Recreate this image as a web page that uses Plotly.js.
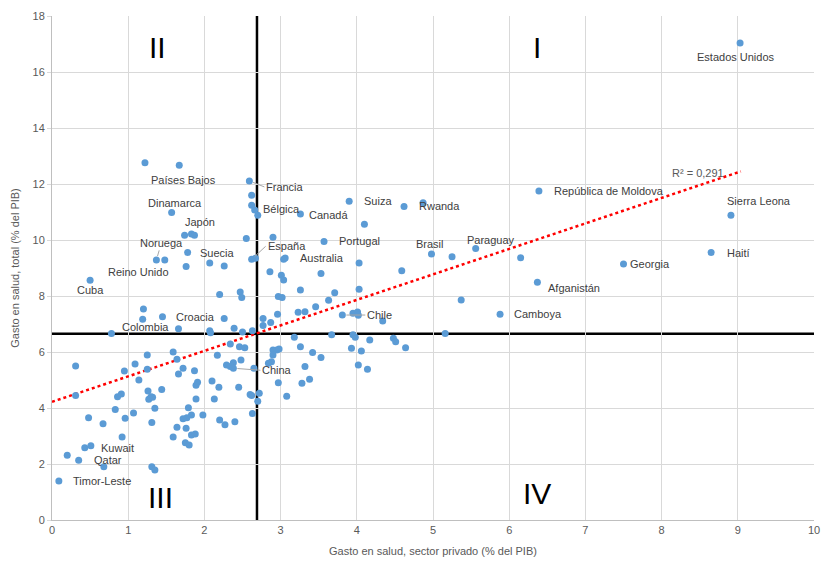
<!DOCTYPE html>
<html>
<head>
<meta charset="utf-8">
<script src="https://cdn.plot.ly/plotly-3.0.1.min.js"></script>
<style>html,body{margin:0;padding:0;background:#fff;}#chart{width:821px;height:565px;}</style>
</head>
<body>
<div id="chart"></div>
<script>
// Países con etiqueta
const paisesEtiquetados = ['Estados Unidos','Países Bajos','Francia','Bélgica','Dinamarca','Japón','Noruega','Reino Unido','España','Suecia','Cuba','Croacia','Colombia','Canadá','Suiza','Rwanda','Portugal','Australia','Brasil','Chile','China','Kuwait','Qatar','Timor-Leste','República de Moldova','Sierra Leona','Paraguay','Georgia','Haití','Afganistán','Camboya'];
const privadoEtiquetados = [9.03,1.67,2.59,2.66,1.57,1.87,1.37,1.48,2.62,2.07,0.50,1.45,1.66,3.26,3.90,4.62,3.57,3.06,4.98,3.81,2.38,0.51,0.35,0.09,6.39,8.91,5.56,7.50,8.65,6.37,5.88];
const totalEtiquetados = [17.04,12.67,12.11,11.07,10.98,10.17,9.29,9.29,9.31,9.18,8.56,7.26,6.83,10.93,11.38,11.20,9.95,9.36,9.50,7.32,5.42,2.65,2.13,1.39,11.75,10.88,9.70,9.14,9.55,8.49,7.35];

// Resto de países (sin etiqueta)
const privadoOtros = [1.22,2.62,2.62,2.70,1.74,1.83,2.55,1.78,2.67,1.76,2.26,2.20,2.47,2.49,1.20,1.19,2.26,0.78,2.07,2.08,2.39,2.50,2.63,2.77,2.77,2.87,2.86,4.87,4.10,2.90,3.04,4.03,5.25,4.59,3.01,3.04,3.53,4.03,3.26,3.71,2.97,3.02,3.63,3.46,2.96,3.23,3.32,3.95,4.01,4.02,4.34,5.16,6.15,5.37,3.18,3.67,3.95,3.98,4.17,4.48,4.51,4.64,3.26,3.42,3.53,3.93,4.06,2.90,2.95,2.98,2.90,2.88,2.84,3.32,4.02,4.14,2.97,3.38,3.28,3.08,2.72,2.70,2.46,2.53,2.34,2.38,2.48,2.65,2.45,2.60,2.62,2.63,2.40,0.31,1.25,1.09,0.95,1.25,1.14,1.59,1.64,1.72,1.66,1.87,2.17,2.29,2.34,1.91,1.89,2.10,2.19,2.13,1.89,0.31,0.86,0.91,1.26,1.30,1.27,1.32,1.44,1.35,0.83,0.48,0.67,0.96,1.07,1.31,1.79,1.83,1.77,1.72,1.98,1.64,1.76,1.59,1.83,1.88,1.75,1.80,2.20,2.27,0.92,0.43,0.20,0.68,1.31,1.35];
const totalOtros = [12.76,11.60,11.24,10.88,10.17,10.21,10.05,9.55,9.35,9.05,9.07,8.05,8.14,7.95,7.54,7.17,7.20,6.66,6.76,6.69,6.85,6.71,6.76,7.20,6.95,7.05,8.87,11.33,10.56,10.10,9.31,9.18,9.40,8.90,8.74,8.57,8.80,8.24,8.21,8.12,7.98,7.95,7.85,7.62,7.35,7.42,7.44,7.38,7.43,7.31,7.11,6.66,9.37,7.86,6.53,6.62,6.62,6.53,6.43,6.49,6.37,6.15,6.19,5.98,5.80,6.13,6.04,6.07,6.07,6.11,5.89,5.65,5.60,5.48,5.54,5.38,4.90,5.03,4.88,4.42,4.53,4.24,6.19,6.15,6.29,5.62,5.71,5.42,4.74,4.48,4.45,3.80,3.51,5.50,5.89,5.57,5.32,5.38,5.00,6.00,5.74,5.42,5.21,5.33,5.88,5.54,5.48,4.92,4.81,4.96,4.74,4.32,4.32,4.45,4.40,4.50,4.61,4.40,4.31,4.38,4.66,3.99,3.95,3.65,3.44,3.63,3.82,3.48,4.01,3.75,3.65,3.62,3.75,3.31,3.28,2.96,3.04,3.07,2.76,2.68,3.57,3.40,2.96,2.58,2.31,1.90,1.90,1.79];

// Líneas de referencia (promedios) y tendencia lineal
const promedioPrivado = 2.69;
const promedioTotal = 6.65;
const tendenciaX = [0, 9.04];
const tendenciaY = [4.22, 12.45];
const textoR2 = 'R² = 0,291';
const ejeXTicks = [0,1,2,3,4,5,6,7,8,9,10];
const ejeYTicks = [0,2,4,6,8,10,12,14,16,18];
const cuadrantes = [
  {t:'I', x:6.36, y:16.86},
  {t:'II', x:1.39, y:16.86},
  {t:'III', x:1.42, y:0.82},
  {t:'IV', x:6.36, y:0.93}
];

// Colocación de etiquetas (estilo): [anclaje, desplazamiento x px, desplazamiento y px (abajo +), línea guía]
const colocacion = {
  'Estados Unidos': ['center', -4, 14],
  'Países Bajos': ['center', 4, 15],
  'Francia': ['left', 15, 6, true],
  'Bélgica': ['left', 6, -1],
  'Dinamarca': ['center', 3, -10],
  'Japón': ['center', 6, -13],
  'Noruega': ['center', 5, -17, true],
  'Reino Unido': ['center', -26, 12],
  'España': ['left', 14, -13, true],
  'Suecia': ['center', 8, -10],
  'Cuba': ['center', 0, 10],
  'Croacia': ['left', 12, 0],
  'Colombia': ['right', -7, -2],
  'Canadá': ['left', 7, 1],
  'Suiza': ['left', 13, 0],
  'Rwanda': ['left', 13, 0],
  'Portugal': ['left', 13, 0],
  'Australia': ['left', 13, 0],
  'Brasil': ['center', -1, -10],
  'Chile': ['left', 23, 0, true],
  'China': ['left', 27, 2, true],
  'Kuwait': ['left', 8, 2],
  'Qatar': ['left', 13, 0],
  'Timor-Leste': ['left', 12, 0],
  'República de Moldova': ['left', 13, 0],
  'Sierra Leona': ['center', 28, -14],
  'Paraguay': ['center', 15, -8],
  'Georgia': ['left', 4, 0],
  'Haití': ['left', 14, 0],
  'Afganistán': ['left', 9, 6],
  'Camboya': ['left', 12, 0]
};

const FONT = 'Liberation Sans, Arial, sans-serif';
const azul = '#5b9bd5';

const traces = [
  {x: tendenciaX, y: tendenciaY, mode: 'lines', type: 'scatter',
   line: {color: '#ff0000', width: 2.5, dash: 'dot'}, hoverinfo: 'skip', showlegend: false},
  {x: privadoOtros, y: totalOtros, mode: 'markers', type: 'scatter',
   marker: {color: azul, size: 7}, showlegend: false},
  {x: privadoEtiquetados, y: totalEtiquetados, text: paisesEtiquetados, mode: 'markers', type: 'scatter',
   marker: {color: azul, size: 7}, showlegend: false}
];

const annotations = [];
paisesEtiquetados.forEach((p, i) => {
  const c = colocacion[p] || ['left', 8, 0];
  const base = {x: privadoEtiquetados[i], y: totalEtiquetados[i], xref: 'x', yref: 'y', text: p,
    font: {family: FONT, size: 11, color: '#404040'}, xanchor: c[0], yanchor: 'middle'};
  if (c[3]) {
    Object.assign(base, {showarrow: true, ax: c[1], ay: c[2], arrowhead: 0, arrowwidth: 1,
      arrowcolor: '#a6a6a6', standoff: 4, startstandoff: 0});
  } else {
    Object.assign(base, {showarrow: false, xshift: c[1], yshift: -c[2]});
  }
  annotations.push(base);
});
annotations.push({x: 8.48, y: 12.40, xref: 'x', yref: 'y', text: textoR2, showarrow: false,
  font: {family: FONT, size: 11, color: '#595959'}, xanchor: 'center', yanchor: 'middle'});
cuadrantes.forEach(q => annotations.push({x: q.x, y: q.y, xref: 'x', yref: 'y', text: q.t, showarrow: false,
  font: {family: 'Liberation Sans Narrow, Liberation Sans, sans-serif', size: 30, color: '#000'},
  xanchor: 'center', yanchor: 'middle'}));

const layout = {
  width: 821, height: 565,
  margin: {l: 52, r: 7, t: 16, b: 45},
  paper_bgcolor: '#fff', plot_bgcolor: '#fff',
  font: {family: FONT, size: 11, color: '#595959'},
  xaxis: {range: [0, 10], tickvals: ejeXTicks, ticktext: ejeXTicks.map(String), showgrid: true, gridcolor: '#d9d9d9',
    zeroline: false, showline: true, linecolor: '#bfbfbf', linewidth: 1, ticks: '', fixedrange: true,
    tickfont: {size: 11, color: '#595959'},
    title: {text: 'Gasto en salud, sector privado (% del PIB)', font: {size: 11, color: '#595959'}, standoff: 12}},
  yaxis: {range: [0, 18], tickvals: ejeYTicks, ticktext: ejeYTicks.map(String), showgrid: true, gridcolor: '#d9d9d9',
    zeroline: false, showline: true, linecolor: '#bfbfbf', linewidth: 1, ticks: 'outside', ticklen: 4, tickcolor: '#d9d9d9',
    fixedrange: true, tickfont: {size: 11, color: '#595959'},
    title: {text: 'Gasto en salud, total (% del PIB)', font: {size: 11, color: '#595959'}, standoff: 10}},
  shapes: [
    {type: 'line', xref: 'x', yref: 'y', x0: promedioPrivado, x1: promedioPrivado, y0: 0, y1: 18,
     line: {color: '#000', width: 2.5}, layer: 'below'},
    {type: 'line', xref: 'x', yref: 'y', x0: 0, x1: 10, y0: promedioTotal, y1: promedioTotal,
     line: {color: '#000', width: 2.5}, layer: 'below'}
  ],
  annotations: annotations,
  hovermode: false
};

Plotly.newPlot('chart', traces, layout, {displayModeBar: false, staticPlot: true});
</script>
</body>
</html>
